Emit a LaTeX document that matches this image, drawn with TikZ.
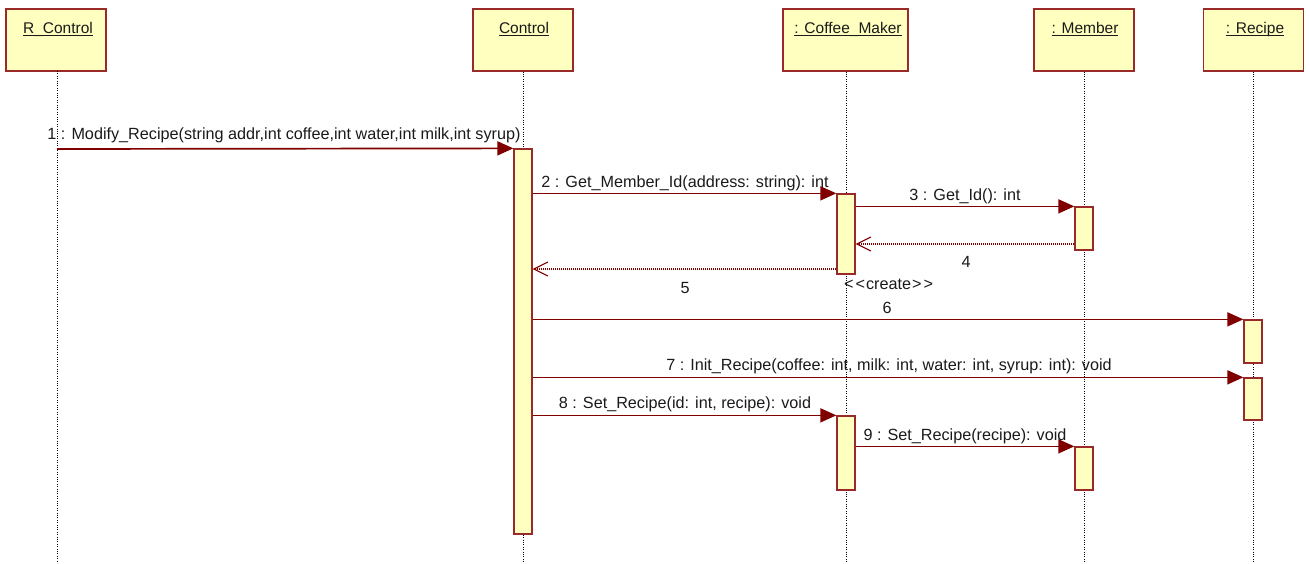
\documentclass[tikz,border=0pt]{standalone}
\usepackage{fontspec}
\setmainfont{Liberation Sans}
\usetikzlibrary{arrows.meta}

\definecolor{msgline}{HTML}{800000}
\definecolor{boxline}{HTML}{9A2A2A}
\definecolor{boxfill}{HTML}{FFFFBF}
\definecolor{inktext}{HTML}{1A1A1A}

% object name with an underline laid over the underscore depth
\newcommand\objname[1]{\setbox0\hbox{#1}\rlap{\rule[-0.21em]{\wd0}{0.08em}}\box0}

\tikzset{
  objbox/.style={draw=boxline, fill=boxfill, line width=1.3pt, inner sep=0pt,
                 minimum width=100pt, minimum height=62pt},
  actbar/.style={draw=boxline, fill=boxfill, line width=1.3pt, inner sep=0pt,
                 minimum width=18pt},
  lifeline/.style={draw=black, line width=0.8pt, dash pattern=on 1pt off 1.4pt},
  callmsg/.style={draw=msgline, line width=1.7pt,
                  -{Triangle[length=16pt,width=14pt]}},
  retmsg/.style={draw=msgline, line width=1.1pt, dash pattern=on 1pt off 1pt,
                 -{Straight Barb[length=14pt,width=14pt,line width=1.1pt]}},
  msglabel/.style={text=inktext, inner sep=0pt, anchor=base,
                   font=\fontsize{16.2}{19}\selectfont},
  titletext/.style={text=inktext, inner sep=0pt, anchor=base,
                    font=\fontsize{15.5}{18}\selectfont},
}

\begin{document}
\begin{tikzpicture}[x=1pt,y=-1pt]
\useasboundingbox (0,0) rectangle (1310,563);

% object boxes
\node[objbox] (rc)  at (56,40)    {};
\node[objbox] (ctl) at (523,40)   {};
\node[objbox, minimum width=125pt] (cm) at (845.5,40) {};
\node[objbox] (mem) at (1084,40)  {};
\node[objbox] (rec) at (1253.5,40) {};

\node[titletext] (rct)   at (58,33)   {\objname{R\_Control}};
\node[titletext] (ctlt)  at (524,33)  {\objname{Control}};
\node[titletext] (cmt)   at (848,33)  {\objname{: Coffee\_Maker}};
\node[titletext] (memt)  at (1085,33) {\objname{: Member}};
\node[titletext] (rect)  at (1255,33) {\objname{: Recipe}};

% lifeline ends
\coordinate (rcE)  at (57,563);
\coordinate (ctlE) at (523,563);
\coordinate (cmE)  at (846,563);
\coordinate (memE) at (1084,563);
\coordinate (recE) at (1253,563);

\draw[lifeline] (57,71) -- (rcE);
\draw[lifeline] (ctl.south -| ctlE) -- (ctlE);
\draw[lifeline] (cm.south -| cmE) -- (cmE);
\draw[lifeline] (mem.south -| memE) -- (memE);
\draw[lifeline] (rec.south -| recE) -- (recE);

% activation bars
\node[actbar, minimum height=385pt] (ctlA) at (523,341.5) {};
\node[actbar, minimum height=80pt]  (cmA)  at (846,234)   {};
\node[actbar, minimum height=43pt]  (memA) at (1084,228.5) {};
\node[actbar, minimum height=43pt]  (recA) at (1253,341.5) {};
\node[actbar, minimum height=42pt]  (recB) at (1253,399)   {};
\node[actbar, minimum height=74pt]  (cmB)  at (846,453)   {};
\node[actbar, minimum height=43pt]  (memB) at (1084,468.5) {};

% message levels
\coordinate (m1) at (57,149);
\coordinate (y4) at (0,244);
\coordinate (y5) at (0,269);

% messages
\draw[callmsg] (m1) -- (ctlA.north west);
\draw[callmsg] (ctlA.east |- cmA.north) -- (cmA.north west);
\draw[callmsg] (cmA.east |- memA.north) -- (memA.north west);
\draw[retmsg]  (memA.west |- y4) -- (cmA.east |- y4);
\draw[retmsg]  (cmA.west |- y5) -- (ctlA.east |- y5);
\draw[callmsg] (ctlA.east |- recA.north) -- (recA.north west);
\draw[callmsg] (ctlA.east |- recB.north) -- (recB.north west);
\draw[callmsg] (ctlA.east |- cmB.north) -- (cmB.north west);
\draw[callmsg] (cmB.east |- memB.north) -- (memB.north west);

% message labels
\node[msglabel] (l1) at (284,139) {1 : Modify\_Recipe(string addr,int coffee,int water,int milk,int syrup)};
\node[msglabel] (l2) at (685,187) {2 : Get\_Member\_Id(address: string): int};
\node[msglabel] (l3) at (965,200) {3 : Get\_Id(): int};
\node[msglabel] (l4) at (966,267) {4};
\node[msglabel] (l5) at (685,293) {5};
\node[msglabel, anchor=base west] (lc) at (844,289) {<\kern2pt<\kern1pt create\kern1pt>\kern2pt>};
\node[msglabel] (l6) at (887,313) {6};
\node[msglabel] (l7) at (889,370) {7 : Init\_Recipe(coffee: int, milk: int, water: int, syrup: int): void};
\node[msglabel] (l8) at (685,408) {8 : Set\_Recipe(id: int, recipe): void};
\node[msglabel] (l9) at (965,440) {9 : Set\_Recipe(recipe): void};
\end{tikzpicture}
\end{document}
